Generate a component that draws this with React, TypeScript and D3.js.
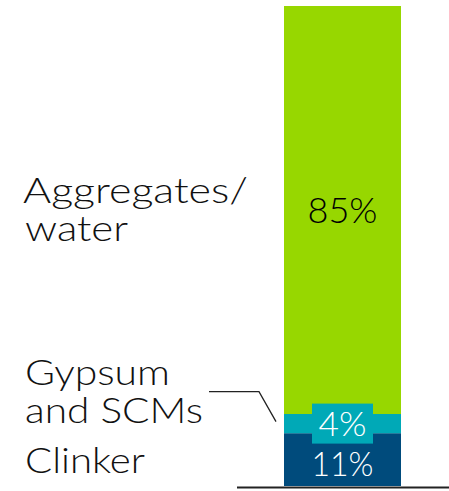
import { useEffect, useRef } from "react";
import * as d3 from "d3";

// cement/concrete composition, bottom to top
const SEGMENTS = ["clinker", "gypsum", "aggregates"];
const SHARES = [11, 4, 85];
const VALUE_LABELS = ["11%", "4%", "85%"];
const NAME_LINES = [["Clinker"], ["Gypsum", "and SCMs"], ["Aggregates/", "water"]];
const COLORS = ["#004B7C", "#00A9B7", "#97D700"];
const TEXT_COLORS = ["#FFFFFF", "#FFFFFF", "#000000"];

const FONT = "'Century Gothic', Lato, sans-serif";

// widths the reference text takes up (px), used to stretch the substitute font
const WIDTHS: Record<string, number> = {
  "Clinker": 120, "Gypsum": 145, "and SCMs": 178, "Aggregates/": 225, "water": 103,
  "11%": 62, "4%": 48, "85%": 70,
};

export default function App() {
  const ref = useRef<SVGSVGElement>(null);

  useEffect(() => {
    const el = ref.current;
    if (!el) return;
    const W = 449, H = 491;
    const svg = d3.select(el).attr("width", W).attr("height", H).attr("viewBox", `0 0 ${W} ${H}`);
    svg.selectAll("*").remove();

    const x = d3.scaleBand<string>().domain(["mix"]).range([284, 401]).padding(0);
    const y = d3.scaleLinear().domain([0, 100]).range([486, 6]);

    const rows = SEGMENTS.map((k, i) => {
      const y0 = d3.sum(SHARES.slice(0, i));
      return { key: k, v: SHARES[i], y0, y1: y0 + SHARES[i], i };
    });
    const bx = x("mix") ?? 0, bw = x.bandwidth();
    const mid = (d: { y0: number; y1: number }) => (y(d.y0) + y(d.y1)) / 2;

    svg.selectAll("rect.seg").data(rows).join("rect")
      .attr("x", bx).attr("width", bw)
      .attr("y", (d) => y(d.y1)).attr("height", (d) => y(d.y0) - y(d.y1))
      .attr("fill", (d) => COLORS[d.i]);

    // baseline
    svg.append("line")
      .attr("x1", 237).attr("x2", W).attr("y1", y(0) + 1.5).attr("y2", y(0) + 1.5)
      .attr("stroke", "#222").attr("stroke-width", 2);

    // label background box for the small segment
    const small = rows[1];
    svg.append("rect")
      .attr("x", bx + bw / 2 - 30.5).attr("width", 61)
      .attr("y", mid(small) - 20).attr("height", 40)
      .attr("fill", COLORS[1]);

    const valOffset = [16, 12, 13];
    svg.selectAll("text.val").data(rows).join("text")
      .attr("x", bx + bw / 2).attr("y", (d) => mid(d) + valOffset[d.i])
      .attr("text-anchor", "middle").attr("font-family", FONT).attr("font-size", (d) => (d.i === 2 ? 35 : 33)).attr("font-weight", 300)
      .attr("textLength", (d) => WIDTHS[VALUE_LABELS[d.i]]).attr("lengthAdjust", "spacingAndGlyphs")
      .attr("fill", (d) => TEXT_COLORS[d.i]).text((d) => VALUE_LABELS[d.i]);

    // names on the left
    const lh = 38;
    const nameBase = [
      mid(rows[0]) + 13,
      mid(rows[1]) - 39,
      mid(rows[2]) - lh / 2 + 12,
    ];
    rows.forEach((d) => {
      const t = svg.append("text").attr("font-family", FONT).attr("font-size", 35).attr("font-weight", 300).attr("fill", "#111");
      NAME_LINES[d.i].forEach((line, j) => {
        t.append("tspan")
          .attr("x", j === 0 && d.i === 2 ? 23 : 25).attr("y", nameBase[d.i] + j * lh)
          .attr("textLength", WIDTHS[line]).attr("lengthAdjust", "spacingAndGlyphs")
          .text(line);
      });
    });

    // leader line from Gypsum label to its segment
    const ly = nameBase[1] + 7;
    svg.append("path")
      .attr("d", `M209,${ly}H${bx - 25}L${bx - 8},${mid(small) - 2}`)
      .attr("fill", "none").attr("stroke", "#222").attr("stroke-width", 1.3);
  }, []);

  return <svg ref={ref} style={{ position: "absolute", left: 0, top: 0 }} />;
}
